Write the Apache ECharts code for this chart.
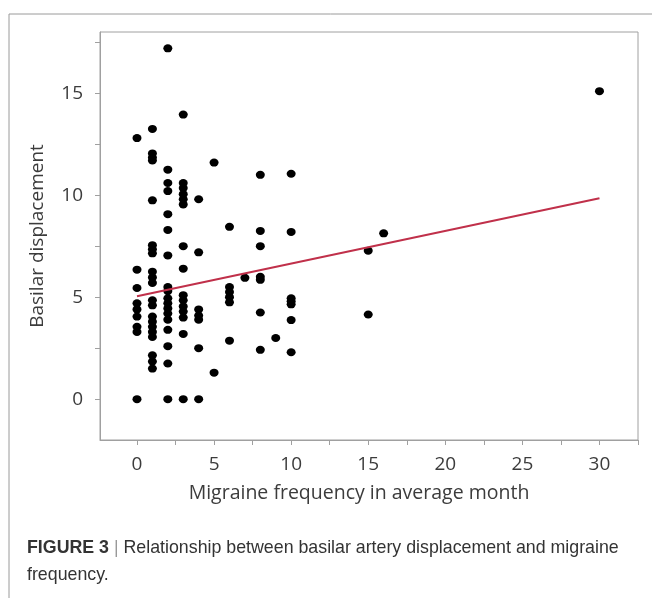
<!DOCTYPE html>
<html>
<head>
<meta charset="utf-8">
<script src="https://cdn.jsdelivr.net/npm/echarts@6/dist/echarts.min.js"></script>
<style>
html,body{margin:0;padding:0;background:#fff;}
#c{width:652px;height:598px;}
</style>
</head>
<body>
<div id="c"></div>
<script>
// Migraine frequency (x) and basilar displacement (y), read by column
const freq0 = [12.8, 6.35, 5.45, 4.7, 4.4, 4.05, 3.55, 3.3, 0];
const freq1 = [13.25, 12.05, 11.85, 11.7, 9.75, 7.55, 7.35, 7.15, 6.25, 5.97, 5.7, 4.85, 4.6, 4.05, 3.8, 3.55, 3.3, 3.05, 2.15, 1.85, 1.5];
const freq2 = [17.2, 11.25, 10.6, 10.2, 9.07, 8.3, 7.05, 5.5, 5.3, 4.95, 4.7, 4.45, 4.2, 3.9, 3.4, 2.6, 1.75, 0];
const freq3 = [13.95, 10.6, 10.35, 10.05, 9.8, 9.55, 7.5, 6.4, 5.1, 4.85, 4.55, 4.3, 4.0, 3.2, 0];
const freq4 = [9.8, 7.2, 4.4, 4.1, 3.9, 2.5, 0];
const freq5 = [11.6, 1.3];
const freq6 = [8.45, 5.5, 5.25, 5.0, 4.75, 2.87];
const freq7 = [5.95];
const freq8 = [11.0, 8.25, 7.5, 6.0, 5.85, 4.25, 2.42];
const freq9 = [3.0];
const freq10 = [11.05, 8.2, 4.95, 4.8, 4.65, 3.88, 2.3];
const freq15 = [7.28, 4.15];
const freq16 = [8.13];
const freq30 = [15.1];
const columns = [[0,freq0],[1,freq1],[2,freq2],[3,freq3],[4,freq4],[5,freq5],[6,freq6],[7,freq7],[8,freq8],[9,freq9],[10,freq10],[15,freq15],[16,freq16],[30,freq30]];

// fitted regression line endpoints
const fitX = [0, 30];
const fitY = [5.05, 9.85];

// axis ticks and labels
const xTicks = [0, 2.5, 5, 7.5, 10, 12.5, 15, 17.5, 20, 22.5, 25, 27.5, 30, 32.5];
const xLabels = [0, 5, 10, 15, 20, 25, 30];
const yTicks = [0, 2.5, 5, 7.5, 10, 12.5, 15, 17.5];
const yLabels = [0, 5, 10, 15];

const points = [];
columns.forEach(([x, ys]) => ys.forEach(y => points.push([x, y])));
const fitLine = fitX.map((x, i) => [x, fitY[i]]);

const axisFont = "'Open Sans', 'DejaVu Sans', sans-serif";
const capFont = "'Liberation Sans', Arial, sans-serif";
const chart = echarts.init(document.getElementById('c'), null, {renderer: 'canvas'});
chart.setOption({
  animation: false,
  backgroundColor: '#fff',
  grid: {left: 100, right: 14, top: 32, bottom: 158, show: true, borderColor: '#a0a0a0', borderWidth: 1, backgroundColor: 'transparent'},
  xAxis: {
    type: 'value', min: -2.4, max: 32.5,
    name: 'Migraine frequency in average month', nameLocation: 'middle', nameGap: 43,
    nameTextStyle: {fontFamily: axisFont, fontSize: 19.5, color: '#3c3c3c', padding: [0, 20, 0, 0]},
    axisLine: {show: true, onZero: false, lineStyle: {color: '#a0a0a0', width: 1}},
    axisTick: {show: true, length: 5, lineStyle: {color: '#a0a0a0'}, customValues: xTicks},
    axisLabel: {customValues: xLabels, margin: 15, fontFamily: axisFont, fontSize: 19, color: '#3c3c3c'},
    splitLine: {show: false}
  },
  yAxis: {
    type: 'value', min: -2, max: 18,
    name: 'Basilar displacement', nameLocation: 'middle', nameGap: 53, nameRotate: 90,
    nameTextStyle: {fontFamily: axisFont, fontSize: 19, color: '#3c3c3c'},
    axisLine: {show: true, onZero: false, lineStyle: {color: '#a0a0a0', width: 1}},
    axisTick: {show: true, length: 5, lineStyle: {color: '#a0a0a0'}, customValues: yTicks},
    axisLabel: {customValues: yLabels, margin: 17, fontFamily: axisFont, fontSize: 19, color: '#3c3c3c'},
    splitLine: {show: false}
  },
  title: {
    left: 22, top: 530,
    text: '{b|FIGURE 3} {s||} Relationship between basilar artery displacement and migraine\nfrequency.',
    textStyle: {
      fontFamily: capFont, fontSize: 17.8, fontWeight: 'normal', color: '#333', lineHeight: 27,
      rich: {
        b: {fontFamily: capFont, fontSize: 17.8, fontWeight: 'bold', color: '#333', lineHeight: 27},
        s: {fontFamily: capFont, fontSize: 17.8, color: '#999', lineHeight: 27}
      }
    }
  },
  graphic: [{
    type: 'polyline', silent: true,
    shape: {points: [[9, 598], [9, 14], [652, 14]]},
    style: {stroke: '#9a9a9a', lineWidth: 1, fill: null}
  }],
  series: [
    {type: 'scatter', data: points, symbol: 'circle', symbolSize: [9, 8], itemStyle: {color: '#000', opacity: 1}, z: 3},
    {type: 'line', data: fitLine, symbol: 'none', lineStyle: {color: '#c0304a', width: 2}, z: 4}
  ]
});
</script>
</body>
</html>
